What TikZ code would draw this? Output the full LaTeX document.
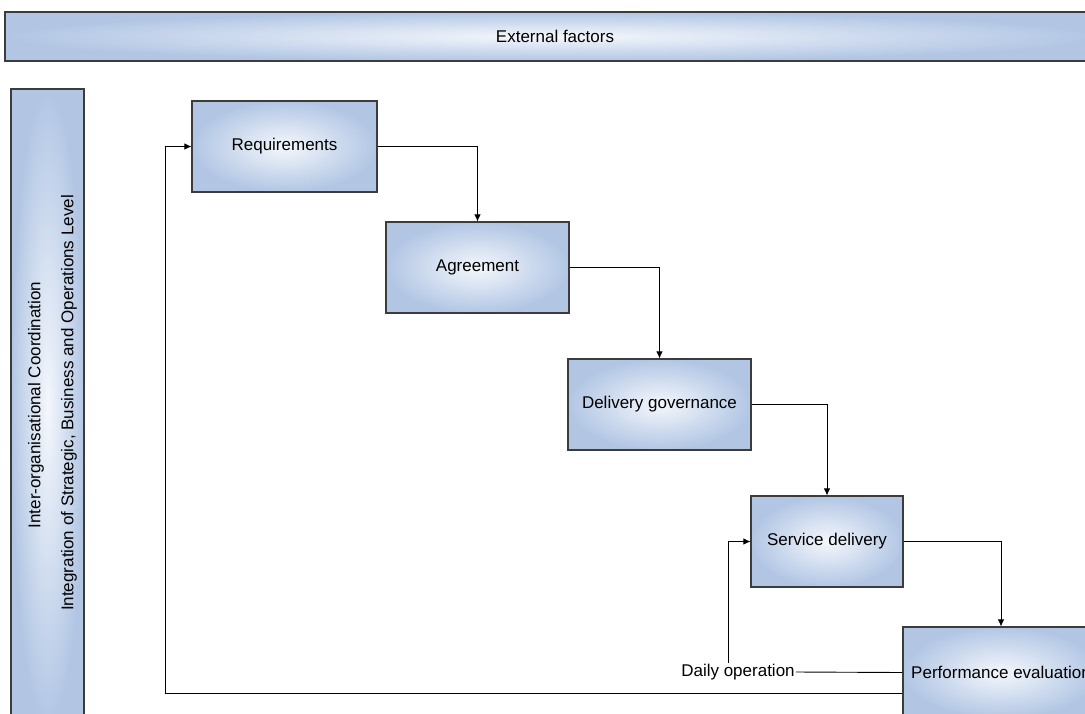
\documentclass[tikz,border=0pt]{standalone}
\usepackage{fontspec}
\setmainfont{Liberation Sans}
\usetikzlibrary{arrows.meta}
\definecolor{boxedge}{RGB}{178,198,228}
\definecolor{boxmid}{RGB}{244,247,252}
\definecolor{boxline}{RGB}{60,60,60}
\tikzset{
  stepbox/.style={draw=boxline, line width=1.1pt, rectangle, inner color=boxmid, outer color=boxedge,
    font=\fontsize{17}{20}\selectfont, align=center, inner sep=0pt},
  conn/.style={draw=black, line width=0.9pt},
  arr/.style={conn, -{Latex[length=7pt,width=6.5pt]}},
  lbl/.style={font=\fontsize{17}{20}\selectfont, inner sep=1pt}
}
\begin{document}
\begin{tikzpicture}[x=1pt,y=-1pt]
\useasboundingbox (0,0) rectangle (1085,713);
\clip (0,0) rectangle (1085,713);
\fill[white] (0,0) rectangle (1085,713);
% side bars
\node[stepbox, minimum width=1095pt, minimum height=49pt] (ext) at (552.5,36.5) {};
\node[lbl] (exttxt) at (555,36.5) {External factors};
\node[stepbox, minimum width=73pt, minimum height=636pt] (side) at (47.5,407) {};
\node[lbl, rotate=90] (side1) at (36,405) {Inter-organisational Coordination};
\node[lbl, rotate=90] (side2) at (69,403) {Integration of Strategic, Business and Operations Level};
% process boxes
\node[stepbox, minimum width=185pt, minimum height=91pt] (req) at (284.5,146.5) {Requirements};
\node[stepbox, minimum width=183pt, minimum height=91pt] (agr) at (477.5,267.5) {Agreement};
\node[stepbox, minimum width=183pt, minimum height=91pt] (dg) at (659.5,404.5) {Delivery governance};
\node[stepbox, minimum width=152pt, minimum height=91pt] (sd) at (827,541.5) {Service delivery};
\node[stepbox, minimum width=196pt, minimum height=91pt] (perf) at (1001,672.5) {Performance evaluation};
% connectors
\draw[arr] (req.east) -| (agr.north);
\draw[arr] (agr.east) -| (dg.north);
\draw[arr] (dg.east) -| (sd.north);
\draw[arr] (sd.east) -| (perf.north);
\node[lbl] (daily) at (738,672) {Daily operation};
\draw[conn] (perf.west) -- (daily.east);
\draw[arr] ([xshift=-10pt]daily.north) |- (sd.west);
\coordinate (fb) at (165,693);
\draw[arr] ([yshift=-20.5pt]perf.west) -- (fb) |- (req.west);
\end{tikzpicture}
\end{document}
